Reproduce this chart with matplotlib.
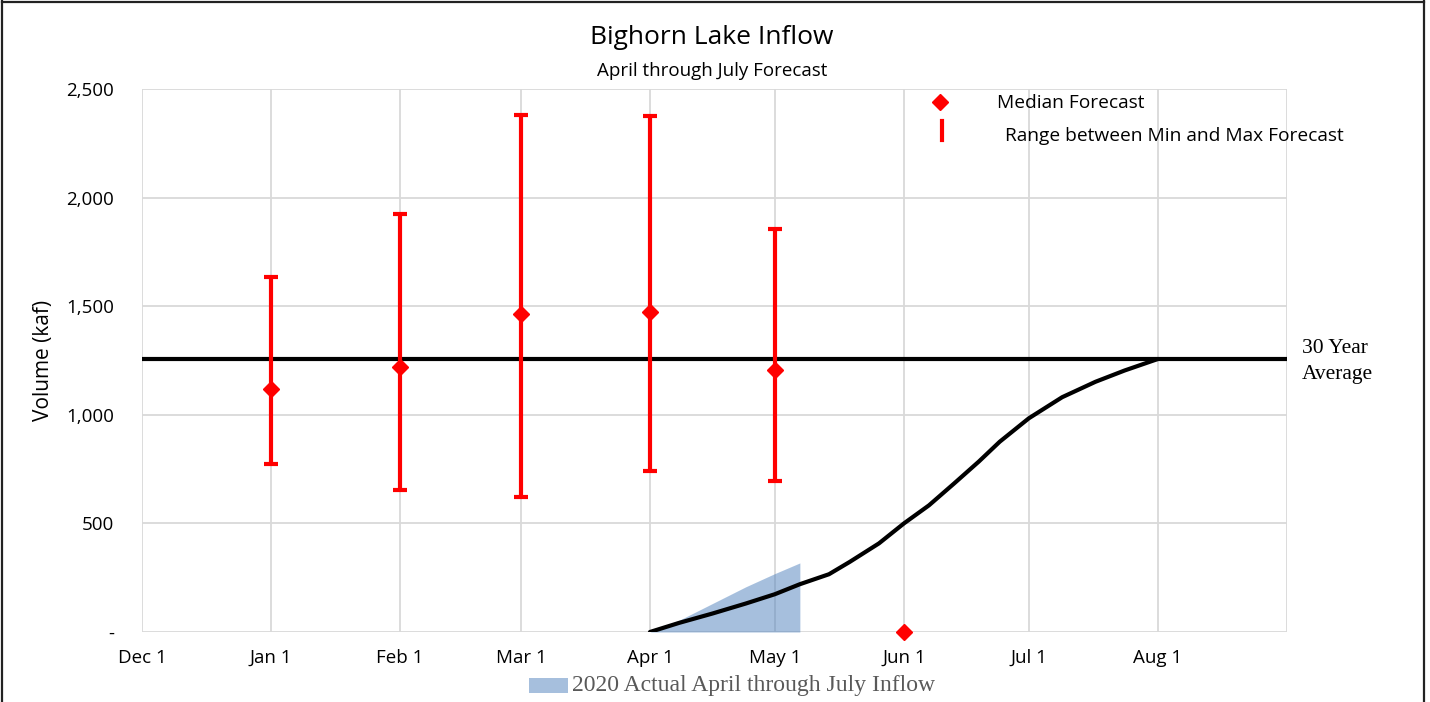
import matplotlib
matplotlib.use("Agg")
import matplotlib.pyplot as plt
import numpy as np
from matplotlib.lines import Line2D
from matplotlib.patches import Rectangle

# ---------------- data ----------------
forecast_dates = ["2020-01-01", "2020-02-01", "2020-03-01", "2020-04-01", "2020-05-01"]
median_forecast = [1119, 1220, 1464, 1473, 1206]
min_forecast = [773, 654, 622, 741, 695]
max_forecast = [1634, 1924, 2380, 2376, 1855]

extra_median_dates = ["2020-06-01"]
extra_median_values = [0]

avg_30yr = 1257

avg_curve_dates = ["2020-04-01", "2020-04-08", "2020-04-16", "2020-04-24", "2020-05-01",
                   "2020-05-07", "2020-05-14", "2020-05-19", "2020-05-26", "2020-06-01",
                   "2020-06-07", "2020-06-13", "2020-06-19", "2020-06-24", "2020-07-01",
                   "2020-07-09", "2020-07-17", "2020-07-24", "2020-08-01"]
avg_curve_values = [0, 42, 85, 131, 174, 220, 266, 323, 408, 500,
                    583, 683, 785, 876, 984, 1081, 1152, 1204, 1257]

actual_dates = ["2020-04-01", "2020-04-08", "2020-04-16", "2020-04-24", "2020-05-01", "2020-05-07"]
actual_values = [0, 54, 131, 208, 269, 318]

tick_dates = ["2019-12-01", "2020-01-01", "2020-02-01", "2020-03-01", "2020-04-01",
              "2020-05-01", "2020-06-01", "2020-07-01", "2020-08-01", "2020-09-01"]
tick_labels = ["Dec 1", "Jan 1", "Feb 1", "Mar 1", "Apr 1", "May 1", "Jun 1", "Jul 1", "Aug 1", ""]
y_ticks = [0, 500, 1000, 1500, 2000, 2500]
y_labels = ["-", "500", "1,000", "1,500", "2,000", "2,500"]

# ---------------- plot ----------------
plt.rcParams['font.family'] = ['Open Sans', 'DejaVu Sans']
W, H = 1430, 702
fig = plt.figure(figsize=(W / 100, H / 100), dpi=100)
ax = fig.add_axes([142 / W, 1 - 632 / H, (1287 - 142) / W, (632 - 89) / H])

def d(lst):
    return np.array(lst, dtype="datetime64[D]").astype("datetime64[ms]").astype(object)

red = "#ff0000"
grid_c = "#d9d9d9"
serif = ["Liberation Serif", "DejaVu Serif"]

ax.fill_between(d(actual_dates), 0, actual_values, color="#4f81bd", alpha=0.5,
                linewidth=0, zorder=1)
ax.axhline(avg_30yr, color="black", lw=3, zorder=2)
ax.plot(d(avg_curve_dates), avg_curve_values, color="black", lw=3,
        solid_joinstyle="round", solid_capstyle="round", zorder=3)

med = np.array(median_forecast)
ax.errorbar(d(forecast_dates), med,
            yerr=[med - np.array(min_forecast), np.array(max_forecast) - med],
            fmt="D", color=red, ecolor=red, elinewidth=3, capsize=4.7, capthick=3,
            markersize=8.5, zorder=4, clip_on=False)
ax.plot(d(extra_median_dates), extra_median_values, "D", color=red, markersize=8.5,
        zorder=4, clip_on=False)

ax.set_xlim(d(["2019-12-01"])[0], d(["2020-09-01"])[0])
ax.set_ylim(0, 2500)
ax.set_xticks(d(tick_dates))
ax.set_xticklabels(tick_labels, fontsize=13.5)
ax.set_yticks(y_ticks)
ax.set_yticklabels(y_labels, fontsize=13.5)
ax.tick_params(axis="both", length=0)
ax.tick_params(axis="x", pad=12)
ax.tick_params(axis="y", pad=20)
ax.grid(True, color=grid_c, lw=1.3, zorder=0)
ax.set_axisbelow(True)
for s in ax.spines.values():
    s.set_visible(False)
ax.set_ylabel("Volume (kaf)", fontsize=15, labelpad=9)

# titles
fig.text(712 / W, 1 - 38 / H, "Bighorn Lake Inflow", ha="center", va="center", fontsize=19)
fig.text(712 / W, 1 - 71 / H, "April through July Forecast", ha="center", va="center", fontsize=13.5)

# legend (top)
fig.add_artist(Line2D([940 / W], [1 - 102 / H], marker="D", color=red, markersize=8.5,
                      linestyle="none"))
fig.add_artist(Line2D([942 / W, 942 / W], [1 - 121 / H, 1 - 140 / H], color=red, lw=3))
fig.text(997 / W, 1 - 103 / H, "Median Forecast", ha="left", va="center", fontsize=13.8)
fig.text(1005 / W, 1 - 136 / H, "Range between Min and Max Forecast", ha="left",
         va="center", fontsize=13.8)

# 30-year average label
fig.text(1302 / W, 1 - 349 / H, "30 Year", ha="left", va="center", fontsize=15.5, family=serif)
fig.text(1302 / W, 1 - 375 / H, "Average", ha="left", va="center", fontsize=15.5, family=serif)

# bottom legend
fig.add_artist(Rectangle((529 / W, 1 - 693 / H), 39 / W, 15 / H, transform=fig.transFigure,
                         facecolor="#4f81bd", alpha=0.5, edgecolor="none"))
fig.text(572 / W, 1 - 686 / H, "2020 Actual April through July Inflow", ha="left",
         va="center", fontsize=17, color="#595959", family=serif)

# figure border
for xs, ys in [([2 / W, 2 / W], [0, 1 - 1 / H]),
               ([2 / W, 1424 / W], [1 - 1.5 / H, 1 - 1.5 / H]),
               ([1424 / W, 1424 / W], [0, 1 - 1 / H])]:
    fig.add_artist(Line2D(xs, ys, color="#222222", lw=1.6))

fig.savefig("out.png", dpi=100)
